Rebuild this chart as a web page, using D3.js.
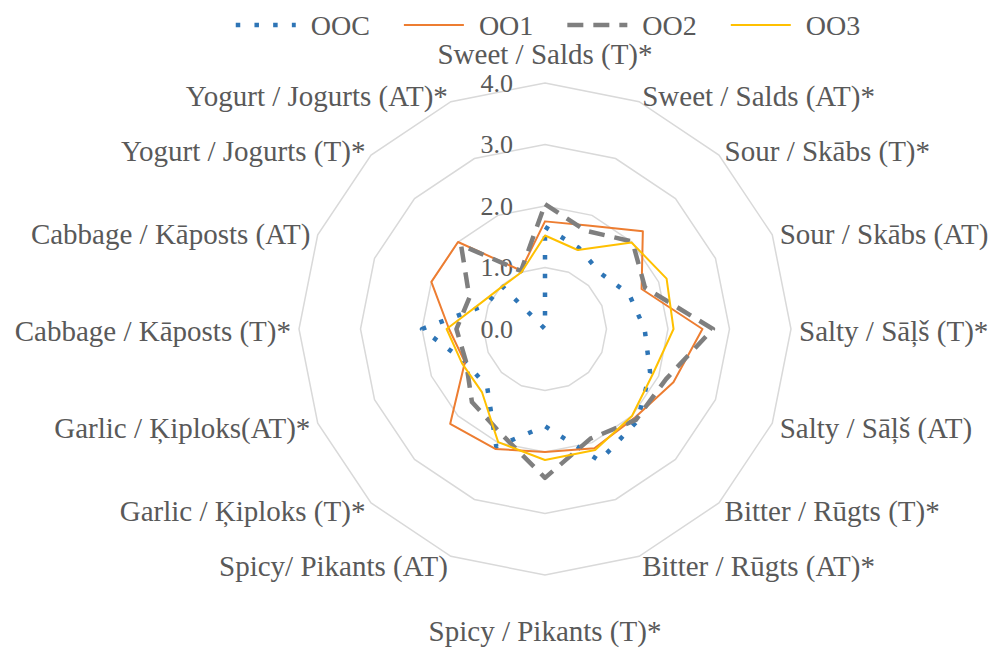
<!DOCTYPE html>
<html>
<head>
<meta charset="utf-8">
<script src="https://cdn.jsdelivr.net/npm/d3@7"></script>
<style>
  body { margin: 0; background: #fff; }
  text { font-family: "Liberation Serif", "Times New Roman", serif; fill: #595959; }
</style>
</head>
<body>
<svg id="chart" width="994" height="648"></svg>
<script>
// Taste attributes (T = taste, AT = aftertaste), clockwise from the top
const categories = [
  "Sweet / Salds (T)*", "Sweet / Salds (AT)*", "Sour / Skābs (T)*", "Sour / Skābs (AT)",
  "Salty / Sāļš (T)*", "Salty / Sāļš (AT)", "Bitter / Rūgts (T)*", "Bitter / Rūgts (AT)*",
  "Spicy / Pikants (T)*", "Spicy/ Pikants (AT)", "Garlic / Ķiploks (T)*", "Garlic  / Ķiploks(AT)*",
  "Cabbage / Kāposts (T)*", "Cabbage / Kāposts (AT)", "Yogurt / Jogurts (T)*", "Yogurt / Jogurts (AT)*"
];
const seriesNames = ["OOC", "OO1", "OO2", "OO3"];
const ooc = [1.66, 1.43, 1.28, 1.48, 1.62, 1.85, 2.12, 2.32, 1.58, 2.07, 1.33, 1.40, 2.00, 1.03, 1.00, 0.00];
const oo1 = [1.75, 1.82, 2.25, 1.70, 2.56, 2.26, 2.05, 2.10, 2.00, 2.11, 2.18, 1.41, 1.56, 2.00, 2.00, 1.03];
const oo2 = [2.03, 1.73, 2.01, 1.76, 2.73, 2.13, 2.09, 1.93, 2.42, 1.85, 1.68, 1.39, 1.44, 1.33, 1.93, 1.02];
const oo3 = [1.52, 1.39, 1.99, 2.14, 2.09, 1.90, 2.00, 2.13, 2.13, 1.99, 1.45, 1.46, 1.60, 1.12, 0.98, 1.00];
const tickValues = [0, 1, 2, 3, 4];
const tickLabels = ["0.0", "1.0", "2.0", "3.0", "4.0"];

const seriesValues = [ooc, oo1, oo2, oo3];
const styles = [
  { color: "#2E75B6", width: 4.5, dash: "4.5 14.2" },
  { color: "#ED7D31", width: 2,   dash: null },
  { color: "#7F7F7F", width: 4.5, dash: "16 10" },
  { color: "#FFC000", width: 2,   dash: null }
];

const cx = 545, cy = 329, R = 246;
const tickFont = 26, labelFont = 29, legendFont = 28;
const svg = d3.select("#chart");

const r = d3.scaleLinear().domain([0, 4]).range([0, R]);
const angle = d3.scaleLinear().domain([0, categories.length]).range([0, 2 * Math.PI]);

const radial = d3.lineRadial()
  .angle((d, i) => angle(i))
  .radius(d => r(d))
  .curve(d3.curveLinearClosed);

const plot = svg.append("g").attr("transform", `translate(${cx},${cy})`);

// concentric polygon gridlines
plot.append("g").selectAll("path")
  .data(tickValues.filter(t => t > 0))
  .join("path")
  .attr("d", t => radial(categories.map(() => t)))
  .attr("fill", "none")
  .attr("stroke", "#D9D9D9")
  .attr("stroke-width", 1.5);

// value labels left of the vertical axis
plot.append("g").selectAll("text")
  .data(tickValues)
  .join("text")
  .attr("x", -32)
  .attr("y", d => -r(d))
  .attr("text-anchor", "end")
  .attr("dominant-baseline", "central")
  .style("font-size", tickFont + "px")
  .text((d, i) => tickLabels[i]);

// category labels around the outside
const labelPad = 8;
plot.append("g").selectAll("text")
  .data(categories)
  .join("text")
  .each(function (d, i) {
    const a = angle(i);
    const s = Math.sin(a), c = Math.cos(a);
    const x = (R + labelPad) * s;
    let y = -(R + labelPad) * c;
    let anchor = "middle";
    if (s > 0.01) anchor = "start";
    else if (s < -0.01) anchor = "end";
    if (Math.abs(s) < 0.01) y += (c > 0 ? -21 : 48);
    else y += 2;
    d3.select(this)
      .attr("x", x).attr("y", y)
      .attr("text-anchor", anchor)
      .attr("dominant-baseline", "central")
      .style("font-size", labelFont + "px")
      .text(d);
  });

// series
plot.append("g").selectAll("path")
  .data(seriesValues)
  .join("path")
  .attr("d", d => radial(d))
  .attr("fill", "none")
  .attr("stroke", (d, i) => styles[i].color)
  .attr("stroke-width", (d, i) => styles[i].width)
  .attr("stroke-dasharray", (d, i) => styles[i].dash)
  .attr("stroke-linejoin", "round");

// legend across the top, centred on the plot
const legend = svg.append("g");
const lineLen = 60, gapText = 15, gapItem = 34, legendY = 25;
const items = legend.selectAll("g").data(seriesNames).join("g");
items.append("line")
  .attr("x1", 0).attr("x2", lineLen)
  .attr("y1", legendY).attr("y2", legendY)
  .attr("stroke", (d, i) => styles[i].color)
  .attr("stroke-width", (d, i) => styles[i].width)
  .attr("stroke-dasharray", (d, i) => styles[i].dash);
items.append("text")
  .attr("x", lineLen + gapText)
  .attr("y", legendY)
  .attr("dominant-baseline", "central")
  .style("font-size", legendFont + "px")
  .text(d => d);
const widths = [];
items.each(function () {
  widths.push(lineLen + gapText + d3.select(this).select("text").node().getComputedTextLength());
});
const total = d3.sum(widths) + gapItem * (widths.length - 1);
let x0 = cx + 3 - total / 2;
items.attr("transform", (d, i) => {
  const t = `translate(${x0},0)`;
  x0 += widths[i] + gapItem;
  return t;
});
</script>
</body>
</html>
